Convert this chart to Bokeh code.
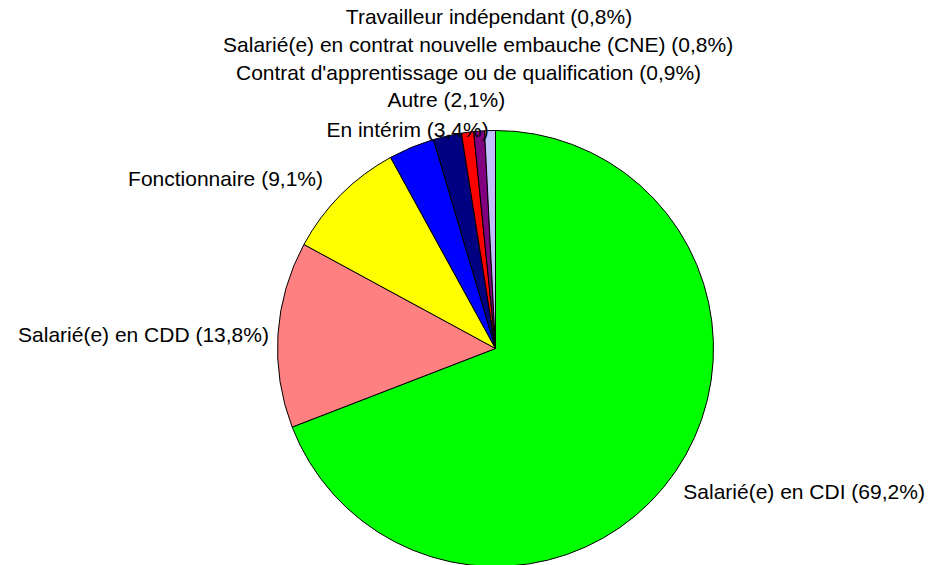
import math
from bokeh.plotting import figure
from bokeh.models import ColumnDataSource
from bokeh.embed import file_html
from bokeh.resources import INLINE
from bokeh.core.properties import value

# ---- data ----
categories = [
    "Salarié(e) en CDI",
    "Salarié(e) en CDD",
    "Fonctionnaire",
    "En intérim",
    "Autre",
    "Contrat d'apprentissage ou de qualification",
    "Salarié(e) en contrat nouvelle embauche (CNE)",
    "Travailleur indépendant",
]
percent = [69.2, 13.8, 9.1, 3.4, 2.1, 0.9, 0.8, 0.8]
colors = ["#00FF00", "#FF8080", "#FFFF00", "#0000FF", "#000080", "#FF0000", "#800080", "#C0C0FF"]

# ---- layout ----
W, H = 929, 565
CX, CY, R = 495, 217, 218
label_align = ["left", "right", "right", "center", "center", "center", "center", "center"]
# offsets (px) of each label's baseline anchor from the slice's rim mid-point (screen: +dy = down)
label_dx = [8, -9, -18, -4, -1, 1, -1, -1]
label_dy = [20, 0, -16, -18, -36, -60, -87, -114]
FONT = "Liberation Sans"
FSIZE = "21px"

total = sum(percent)
starts, ends, mids = [], [], []
cum = 0.0
for v in percent:
    a0 = math.pi / 2 - 2 * math.pi * cum / total
    cum += v
    a1 = math.pi / 2 - 2 * math.pi * cum / total
    starts.append(a0)
    ends.append(a1)
    mids.append((a0 + a1) / 2)

p = figure(width=W, height=H, x_range=(0, W), y_range=(0, H),
           output_backend="svg", toolbar_location=None, min_border=0)
p.axis.visible = False
p.grid.visible = False
p.outline_line_color = None
p.background_fill_color = "white"
p.border_fill_color = "white"

src = ColumnDataSource(dict(x=[CX] * len(percent), y=[CY] * len(percent),
                            start=starts, end=ends, color=colors))
p.wedge(x="x", y="y", radius=R, start_angle="start", end_angle="end",
        direction="clock", fill_color="color", line_color="black",
        line_width=1, source=src)

labels = [f"{c} ({str(v).replace('.', ',')}%)" for c, v in zip(categories, percent)]

groups = {}
for i, lab in enumerate(labels):
    ex = CX + R * math.cos(mids[i])
    ey = CY + R * math.sin(mids[i])
    lx = ex + label_dx[i]
    ly = ey - label_dy[i]
    g = groups.setdefault(label_align[i], {"x": [], "y": [], "t": []})
    g["x"].append(lx)
    g["y"].append(ly)
    g["t"].append(lab)

for align, g in groups.items():
    p.text(x=g["x"], y=g["y"], text=g["t"], text_align=align,
           text_baseline="alphabetic", text_font=value(FONT),
           text_font_size=FSIZE, text_color="black")

open("out.html", "w").write(file_html(p, INLINE))
